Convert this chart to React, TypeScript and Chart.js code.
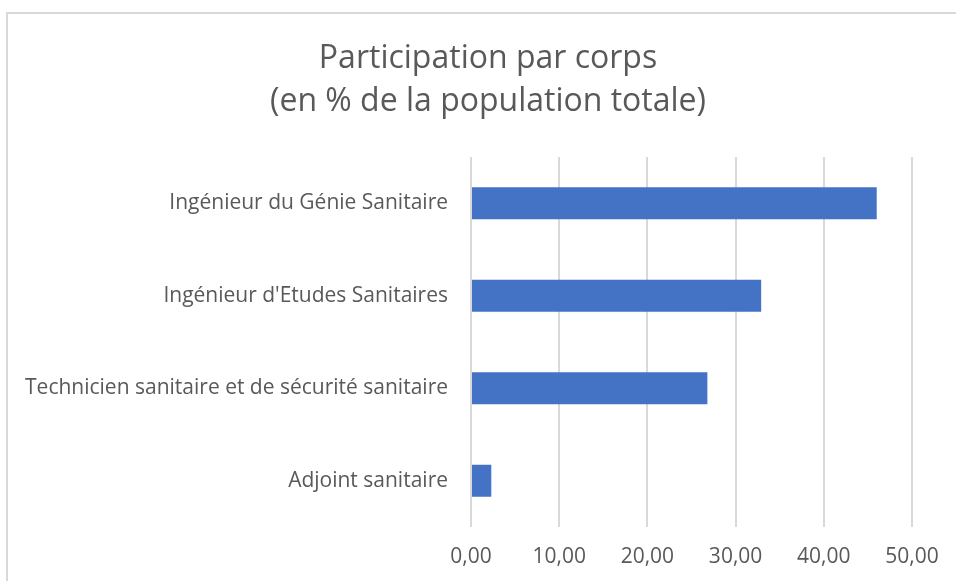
import React, { useEffect, useRef } from "react";
import { Chart, registerables } from "chart.js";

Chart.register(...registerables);

const categories = [
  "Ingénieur du Génie Sanitaire",
  "Ingénieur d'Etudes Sanitaires",
  "Technicien sanitaire et de sécurité sanitaire",
  "Adjoint sanitaire",
];
const values = [46.0, 32.9, 26.8, 2.3];
const titleLines = ["Participation par corps", "(en % de la population totale)"];
const xMin = 0;
const xMax = 50;
const xStep = 10;

const FONT = "'Open Sans', 'Noto Sans', sans-serif";
const TEXT = "#595959";

export default function App() {
  const ref = useRef<HTMLCanvasElement | null>(null);

  useEffect(() => {
    if (!ref.current) return;
    const chart = new Chart(ref.current, {
      type: "bar",
      data: {
        labels: categories,
        datasets: [
          {
            data: values,
            backgroundColor: "#4472C4",
            borderWidth: 0,
            barPercentage: 0.346,
            categoryPercentage: 1,
          },
        ],
      },
      options: {
        indexAxis: "y",
        responsive: false,
        animation: false,
        layout: { padding: { left: 20, right: 0, top: 0, bottom: 0 } },
        plugins: {
          legend: { display: false },
          tooltip: { enabled: false },
          title: {
            display: true,
            text: titleLines,
            color: TEXT,
            font: { family: FONT, size: 32, weight: "normal", lineHeight: 43 / 32 },
            padding: { top: 37, bottom: 34 },
          },
        },
        scales: {
          y: {
            grid: { display: false, drawTicks: false },
            border: { display: false },
            ticks: {
              color: TEXT,
              font: { family: FONT, size: 21 },
              padding: 23,
            },
            afterFit: (s: any) => {
              s.width = 451;
            },
          },
          yRight: {
            type: "linear",
            position: "right",
            display: true,
            grid: { display: false, drawTicks: false },
            border: { display: false },
            ticks: { display: false },
            afterFit: (s: any) => {
              s.width = 44;
            },
          },
          x: {
            min: xMin,
            max: xMax,
            grid: { color: "#d9d9d9", lineWidth: 2, drawTicks: false },
            border: { display: false },
            ticks: {
              stepSize: xStep,
              color: TEXT,
              font: { family: FONT, size: 21 },
              padding: 17,
              callback: (v: any) => Number(v).toFixed(2).replace(".", ","),
            },
            afterFit: (s: any) => {
              s.height = 54;
            },
          },
        },
      },
    });
    return () => chart.destroy();
  }, []);

  return (
    <div
      style={{
        position: "fixed",
        left: 0,
        top: 0,
        width: 956,
        height: 581,
        overflow: "hidden",
        background: "#fff",
      }}
    >
      <div
        style={{
          position: "absolute",
          left: 6,
          top: 12,
          width: 1000,
          height: 1000,
          border: "2px solid #d9d9d9",
        }}
      />
      <canvas
        ref={ref}
        width={956}
        height={581}
        style={{ position: "absolute", left: 0, top: 0, width: 956, height: 581 }}
      />
    </div>
  );
}
